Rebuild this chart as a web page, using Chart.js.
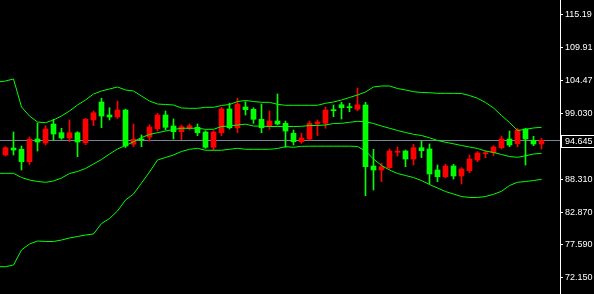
<!DOCTYPE html>
<html><head><meta charset="utf-8">
<script src="https://cdn.jsdelivr.net/npm/chart.js@4/dist/chart.umd.min.js"></script>
<style>html,body{margin:0;padding:0;background:#000;overflow:hidden}#wrap{width:594px;height:294px;position:relative}</style>
</head><body><div id="wrap"><canvas id="c"></canvas></div>
<script>
// candle index 0..67
const opens=[92.28,93.42,93.21,91.18,94.90,94.24,97.35,95.93,95.06,95.93,94.29,98.01,100.95,98.82,98.50,99.64,94.03,94.85,95.22,96.58,98.82,97.02,96.09,96.65,96.81,96.04,93.54,95.93,99.81,96.74,100.13,99.76,98.12,97.02,97.84,97.46,95.83,94.45,94.90,97.35,97.46,99.64,100.51,100.13,99.77,100.46,90.48,89.82,90.20,92.72,92.93,91.62,93.47,93.26,89.82,88.72,90.48,88.84,89.71,91.46,92.49,92.65,93.47,94.90,94.13,96.53,94.68,94.08];
const highs=[93.64,96.04,93.75,95.22,97.51,97.07,98.12,96.65,98.01,96.09,98.28,99.48,101.56,100.02,101.11,99.77,97.35,95.55,97.24,99.10,99.48,98.17,97.19,97.35,97.35,96.25,96.25,100.08,100.74,101.56,101.00,100.02,100.62,99.48,102.26,97.84,96.37,95.83,97.84,98.01,100.08,100.46,100.90,100.74,103.24,100.90,93.21,90.92,93.26,93.59,93.09,94.03,94.57,94.08,90.64,90.75,90.75,90.20,92.28,92.82,92.93,93.80,95.39,96.20,96.65,96.65,95.34,95.01];
const lows=[92.11,92.28,89.82,90.72,92.93,93.91,94.68,94.85,94.45,92.00,93.96,97.07,96.74,98.01,98.25,93.50,93.64,93.64,94.52,96.20,96.37,94.90,94.81,96.37,95.44,93.37,93.09,95.44,96.53,95.93,98.82,97.46,95.93,96.48,97.19,93.54,93.91,94.19,94.73,95.44,96.65,98.55,98.17,99.36,99.53,85.62,86.55,87.91,89.99,92.11,90.36,90.64,91.83,87.53,87.91,88.56,88.35,87.53,89.38,91.18,91.83,92.16,93.26,93.64,93.64,90.64,93.80,93.26];
const closes=[93.47,93.09,91.18,94.85,94.40,96.53,95.71,95.06,95.93,94.40,98.12,99.20,98.66,98.50,99.64,93.75,94.85,94.73,96.86,98.82,96.81,96.09,96.91,97.07,95.93,93.54,96.04,99.81,96.74,100.62,99.69,98.12,96.74,97.84,97.35,96.20,94.45,95.06,97.46,97.68,99.64,99.53,100.02,100.02,100.49,90.36,89.82,90.36,92.93,92.82,91.62,93.47,92.98,89.17,88.72,90.48,88.84,89.99,91.62,92.60,92.60,93.59,94.90,93.91,96.37,94.90,94.08,94.645];
// Bollinger bands, index -1..67
const bandStart=-1;
const upperBand=[104.22,104.39,104.72,100.13,98.66,97.68,97.56,98.01,98.66,99.48,100.46,101.28,102.26,102.75,103.08,103.41,102.92,102.75,101.93,101.11,100.62,100.54,100.46,99.97,99.92,99.92,100.08,100.08,100.38,100.54,101.03,101.20,101.03,100.90,100.90,100.57,100.41,100.41,100.41,100.41,100.41,100.74,100.95,101.28,101.69,102.10,102.59,103.41,103.57,103.57,103.16,102.92,102.64,102.51,102.47,102.37,102.37,102.37,102.34,102.01,101.56,100.87,99.97,98.74,97.60,96.29,96.48,96.70,96.81];
const middleBand=[89.28,89.28,89.28,88.59,88.18,87.94,87.81,88.02,88.51,89.25,89.58,90.07,90.80,91.54,92.44,93.26,93.83,94.45,95.14,95.63,95.93,96.20,96.45,96.65,96.65,96.65,96.48,96.48,96.94,97.02,97.19,97.32,97.02,96.99,96.94,96.94,96.94,96.94,96.97,97.10,97.10,97.19,97.43,97.46,97.63,97.79,97.73,97.43,97.02,96.65,96.29,95.96,95.66,95.47,95.09,94.65,94.36,94.11,93.83,93.59,93.34,92.93,92.69,92.36,92.03,91.90,92.15,92.44,92.55];
const lowerBand=[73.99,73.99,74.27,76.73,77.71,78.20,78.12,78.12,78.36,78.69,78.94,79.18,79.35,81.06,81.88,83.11,84.91,85.89,87.69,89.49,91.46,91.87,92.28,92.85,93.21,93.37,93.05,93.05,93.05,93.21,93.37,93.21,93.21,93.21,93.21,93.34,93.64,93.54,93.70,93.72,93.72,93.72,93.72,93.72,93.72,93.67,92.93,91.62,90.56,89.82,89.25,88.92,88.59,88.10,87.45,86.88,86.30,85.89,85.48,85.32,85.32,85.48,85.84,86.34,87.28,87.81,87.94,88.10,88.30];
const tickValues=[115.19,109.91,104.47,99.03,93.75,88.31,82.87,77.59,72.15];
const tickLabels=['115.19','109.91','104.47','99.030','93.750','88.310','82.870','77.590','72.150'];
const bidValue=94.645;
const bidLabel='94.645';

const UP='#ff0000', DOWN='#00ff00', BAND='#00ff00', BID='#778899';
const FONT={family:'Liberation Sans, Arial, sans-serif',size:9};

const idx=opens.map((_,i)=>i);
const bodyColors=idx.map(i=>closes[i]>=opens[i]?UP:DOWN);
const bodies=idx.map(i=>({x:i,y:[opens[i],closes[i]]}));
const wicks=idx.map(i=>({x:i,y:[lows[i],highs[i]]}));
const band=a=>a.map((v,i)=>({x:i+bandStart,y:v}));

const bidBox={
  id:'bidBox',
  afterDraw(chart){
    const {ctx,chartArea}=chart;
    const y=Math.round(chart.scales.y.getPixelForValue(bidValue));
    const x=chartArea.right+1;
    ctx.save();
    ctx.fillStyle='#000';
    ctx.fillRect(x,y-6,60,12);
    ctx.strokeStyle='#fff';ctx.lineWidth=1;
    ctx.strokeRect(x+0.5,y-5.5,60,12);
    ctx.fillStyle='#fff';
    ctx.font=FONT.size+'px '+FONT.family;
    ctx.textBaseline='middle';ctx.textAlign='left';
    ctx.fillText(bidLabel,x+4,y+0.5);
    ctx.restore();
  }
};

new Chart(document.getElementById('c'),{
  type:'bar',
  data:{datasets:[
    {type:'line',data:band(upperBand),borderColor:BAND,borderWidth:1,pointRadius:0,tension:0,order:0},
    {type:'line',data:band(middleBand),borderColor:BAND,borderWidth:1,pointRadius:0,tension:0,order:0},
    {type:'line',data:band(lowerBand),borderColor:BAND,borderWidth:1,pointRadius:0,tension:0,order:0},
    {type:'bar',data:bodies,backgroundColor:bodyColors,borderWidth:0,barThickness:5,minBarLength:1,grouped:false,order:1},
    {type:'bar',data:wicks,backgroundColor:bodyColors,borderWidth:0,barThickness:1,grouped:false,order:2},
    {type:'line',data:[{x:-1,y:bidValue},{x:70,y:bidValue}],borderColor:BID,borderWidth:1,pointRadius:0,order:3}
  ]},
  options:{
    responsive:true,maintainAspectRatio:false,animation:false,
    layout:{padding:0},
    plugins:{legend:{display:false},tooltip:{enabled:false}},
    scales:{
      x:{type:'linear',display:false,offset:false,min:-0.6875,max:69.3125},
      y:{type:'linear',position:'right',min:69.527,max:117.645,
        afterBuildTicks:s=>{s.ticks=tickValues.map(v=>({value:v}));},
        afterFit:s=>{s.width=34;s.paddingTop=0;s.paddingBottom=0;},
        ticks:{color:'#fff',font:FONT,padding:2,autoSkip:false,callback:(v,i)=>tickLabels[i]},
        grid:{drawOnChartArea:false,drawTicks:true,tickLength:3,tickColor:'#fff'},
        border:{display:true,color:'#fff',width:1}
      }
    }
  },
  plugins:[bidBox]
});
</script>
</body></html>
